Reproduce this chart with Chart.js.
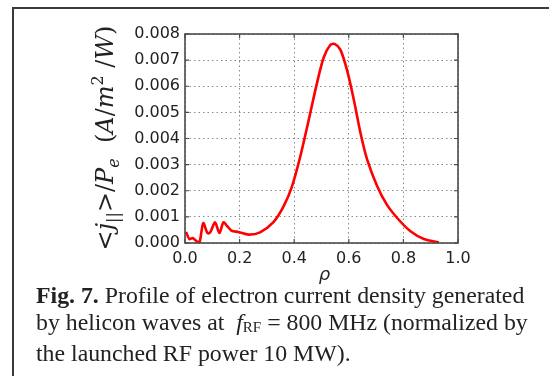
<!DOCTYPE html>
<html>
<head>
<meta charset="utf-8">
<script src="https://cdn.jsdelivr.net/npm/chart.js@4.4.1/dist/chart.umd.min.js"></script>
<style>
  html, body { margin: 0; padding: 0; background: #fff; }
  #wrap { position: relative; width: 549px; height: 376px; overflow: hidden; }
  #frame { position: absolute; left: 12px; top: 7px; width: 600px; height: 400px;
           border-top: 2px solid #3a3a3a; border-left: 2px solid #3a3a3a; }
  #plot { position: absolute; left: 0; top: 0; }
  #caption { position: absolute; left: 36px; top: 282px; width: 512px;
             font-family: "Liberation Serif", "Times New Roman", serif; font-size: 23.8px;
             line-height: 26.5px; color: #222; white-space: nowrap; }
  #caption sub { font-size: 15px; vertical-align: -2px; font-style: normal; }
</style>
</head>
<body>
<div id="wrap">
  <div id="frame"></div>
  <canvas id="plot" width="549" height="376"></canvas>
  <div id="caption">
    <b>Fig. 7.</b> Profile of electron current density generated<br>
    by helicon waves at &nbsp;<i>f</i><sub>RF</sub> = 800 MHz (normalized by<br>
    the launched RF power 10 MW).
  </div>
</div>
<script>
// normalized radius and current density profile
const rho = [0.004, 0.016, 0.028, 0.043, 0.053, 0.067, 0.082, 0.092, 0.110, 0.126,
  0.141, 0.155, 0.171, 0.196, 0.233, 0.275, 0.324, 0.361, 0.392, 0.422,
  0.453, 0.483, 0.508, 0.532, 0.548, 0.569, 0.594, 0.618, 0.643, 0.667,
  0.704, 0.740, 0.783, 0.826, 0.875, 0.930];
const jPar = [0.00042, 0.00015, 0.00019, 0.00006, 0.00002, 0.00076, 0.00038, 0.00040, 0.00079, 0.00038,
  0.00079, 0.00064, 0.00047, 0.00042, 0.00032, 0.00041, 0.00080, 0.00140, 0.00217, 0.00330,
  0.00470, 0.00610, 0.00710, 0.00758, 0.00762, 0.00740, 0.00660, 0.00550, 0.00420, 0.00320,
  0.00217, 0.00146, 0.00089, 0.00045, 0.00015, 0.00002];
const xTicks = [0.0, 0.2, 0.4, 0.6, 0.8, 1.0];
const yTicks = [0, 0.001, 0.002, 0.003, 0.004, 0.005, 0.006, 0.007, 0.008];

const tickFont = { family: "DejaVu Sans", size: 16 };

// matplotlib-style frame, inward ticks, axis label and mathtext y label
const extras = {
  id: "extras",
  afterDraw(chart) {
    const { ctx, chartArea: a, scales } = chart;
    ctx.save();
    ctx.strokeStyle = "#4a4a4a";
    ctx.lineWidth = 1.6;
    ctx.strokeRect(a.left, a.top, a.right - a.left, a.bottom - a.top);
    ctx.lineWidth = 1.2;
    xTicks.forEach(v => {
      const x = scales.x.getPixelForValue(v);
      ctx.beginPath();
      ctx.moveTo(x, a.bottom); ctx.lineTo(x, a.bottom - 4);
      ctx.moveTo(x, a.top); ctx.lineTo(x, a.top + 4);
      ctx.stroke();
    });
    yTicks.forEach(v => {
      const y = scales.y.getPixelForValue(v);
      ctx.beginPath();
      ctx.moveTo(a.left, y); ctx.lineTo(a.left + 4, y);
      ctx.moveTo(a.right, y); ctx.lineTo(a.right - 4, y);
      ctx.stroke();
    });

    // x axis label
    ctx.fillStyle = "#222";
    ctx.font = "italic 18px 'DejaVu Sans'";
    ctx.textAlign = "center";
    ctx.textBaseline = "alphabetic";
    ctx.fillText("\u03c1", (a.left + a.right) / 2 + 3, 280);

    // y axis label: <j_||>/P_e (A/m^2/W)
    ctx.translate(113, 138);
    ctx.rotate(-Math.PI / 2);
    const main = "italic 24px 'DejaVu Serif'";
    const up = "24px 'DejaVu Serif'";
    const small = "italic 16px 'DejaVu Serif'";
    const smallUp = "16px 'DejaVu Serif'";
    const parts = [
      [up, "<", 0], [main, "j", 0], [smallUp, "||", 6], [up, ">/", 0],
      [main, "P", 0], [small, "e", 6], [up, "  (", 0], [main, "A", 0],
      [up, "/", 0], [main, "m", 0], [smallUp, "2", -10], [up, " /", 0],
      [main, "W", 0], [up, ")", 0]
    ];
    let w = 0;
    parts.forEach(p => { ctx.font = p[0]; w += ctx.measureText(p[1]).width; });
    let cx = -w / 2;
    ctx.textAlign = "left";
    parts.forEach(p => {
      ctx.font = p[0];
      ctx.fillText(p[1], cx, p[2]);
      cx += ctx.measureText(p[1]).width;
    });
    ctx.restore();
  }
};

new Chart(document.getElementById("plot"), {
  type: "line",
  data: {
    datasets: [{
      data: rho.map((r, i) => ({ x: r, y: jPar[i] })),
      borderColor: "#ff0000",
      borderWidth: 2.6,
      pointRadius: 0,
      tension: 0.3,
      fill: false
    }]
  },
  options: {
    responsive: false,
    animation: false,
    devicePixelRatio: 1,
    layout: { padding: { top: 34, right: 91, left: 0, bottom: 0 } },
    plugins: { legend: { display: false }, tooltip: { enabled: false } },
    scales: {
      x: {
        type: "linear",
        min: 0, max: 1,
        afterFit: s => { s.height = 133; },
        afterBuildTicks: s => { s.ticks = xTicks.map(v => ({ value: v })); },
        grid: { color: "#8a8a8a", lineWidth: 1, drawTicks: false },
        border: { display: false, dash: [1.5, 3] },
        ticks: { color: "#222", font: tickFont, padding: 6, maxRotation: 0,
                 callback: v => v.toFixed(1) }
      },
      y: {
        min: 0, max: 0.008,
        afterFit: s => { s.width = 185; },
        afterBuildTicks: s => { s.ticks = yTicks.map(v => ({ value: v })); },
        grid: { color: "#8a8a8a", lineWidth: 1, drawTicks: false },
        border: { display: false, dash: [1.5, 3] },
        ticks: { color: "#222", font: tickFont, padding: 5,
                 callback: v => v.toFixed(3) }
      }
    }
  },
  plugins: [extras]
});
</script>
</body>
</html>
